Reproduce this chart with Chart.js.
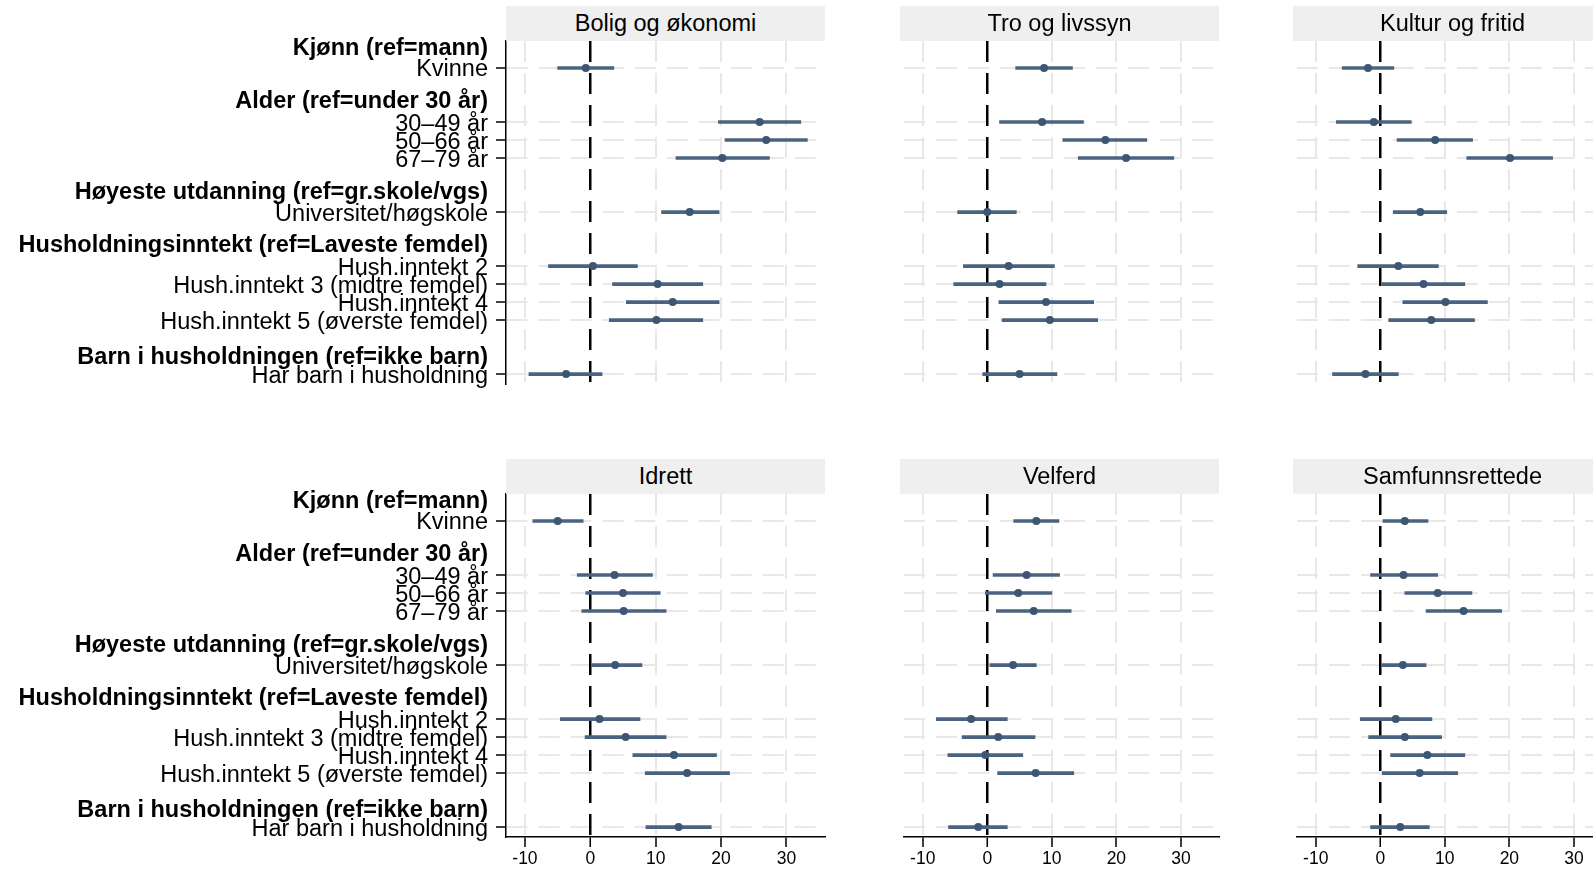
<!DOCTYPE html>
<html>
<head>
<meta charset="utf-8">
<script src="https://cdn.jsdelivr.net/npm/chart.js@4/dist/chart.umd.min.js"></script>
<style>
html, body { margin: 0; padding: 0; background: #ffffff; }
body { width: 1593px; height: 872px; overflow: hidden; position: relative;
       font-family: 'Liberation Sans', Arial, Helvetica, sans-serif; }
canvas { position: absolute; }
.hdr { position: absolute; background: #efefef; height: 35px; line-height: 35px;
       text-align: center; font-size: 23.5px; color: #000; white-space: nowrap; z-index: 2; }
</style>
</head>
<body>
<script>
// ---------------- DATA ----------------
const categories = ['Kvinne', '30–49 år', '50–66 år', '67–79 år', 'Universitet/høgskole',
  'Hush.inntekt 2', 'Hush.inntekt 3 (midtre femdel)', 'Hush.inntekt 4',
  'Hush.inntekt 5 (øverste femdel)', 'Har barn i husholdning'];
const catSlots = [0, 3, 4, 5, 8, 11, 12, 13, 14, 17];
const groupHeaders = ['Kjønn (ref=mann)', 'Alder (ref=under 30 år)',
  'Høyeste utdanning (ref=gr.skole/vgs)', 'Husholdningsinntekt (ref=Laveste femdel)',
  'Barn i husholdningen (ref=ikke barn)'];
const headerSlots = [-1.22, 1.74, 6.78, 9.77, 15.97];

const panelTitles = ['Bolig og økonomi', 'Tro og livssyn', 'Kultur og fritid',
  'Idrett', 'Velferd', 'Samfunnsrettede'];

const xTicks = [-10, 0, 10, 20, 30];
const xTickLabels = ['-10', '0', '10', '20', '30'];

const boligEst = [-0.7, 25.9, 26.9, 20.2, 15.2, 0.4, 10.3, 12.6, 10.1, -3.7];
const boligLo  = [-5.0, 19.6, 20.6, 13.1, 10.9, -6.4, 3.4, 5.5, 2.9, -9.4];
const boligHi  = [3.6, 32.2, 33.2, 27.4, 19.7, 7.2, 17.2, 19.7, 17.2, 1.8];

const troEst = [8.8, 8.5, 18.3, 21.5, 0.0, 3.3, 1.9, 9.1, 9.7, 5.0];
const troLo  = [4.4, 1.9, 11.7, 14.1, -4.6, -3.7, -5.2, 1.8, 2.3, -0.7];
const troHi  = [13.2, 14.9, 24.7, 28.9, 4.5, 10.4, 9.1, 16.5, 17.1, 10.8];

const kulturEst = [-1.9, -1.0, 8.5, 20.1, 6.2, 2.8, 6.7, 10.1, 7.9, -2.3];
const kulturLo  = [-5.9, -6.8, 2.6, 13.4, 2.0, -3.5, 0.3, 3.5, 1.3, -7.4];
const kulturHi  = [2.1, 4.8, 14.3, 26.7, 10.3, 9.0, 13.1, 16.6, 14.6, 2.8];

const idrettEst = [-5.0, 3.7, 5.0, 5.1, 3.8, 1.4, 5.4, 12.8, 14.8, 13.5];
const idrettLo  = [-8.8, -2.0, -0.7, -1.3, 0.0, -4.6, -0.8, 6.5, 8.4, 8.5];
const idrettHi  = [-1.1, 9.5, 10.7, 11.6, 7.9, 7.6, 11.6, 19.3, 21.3, 18.5];

const velferdEst = [7.6, 6.1, 4.8, 7.2, 4.0, -2.5, 1.7, -0.3, 7.5, -1.4];
const velferdLo  = [4.1, 0.9, -0.3, 1.4, 0.4, -7.9, -3.9, -6.1, 1.6, -6.0];
const velferdHi  = [11.1, 11.2, 10.0, 13.0, 7.6, 3.1, 7.4, 5.5, 13.4, 3.1];

const samfEst = [3.8, 3.6, 8.9, 12.9, 3.5, 2.4, 3.8, 7.3, 6.1, 3.1];
const samfLo  = [0.4, -1.5, 3.8, 7.1, 0.0, -3.1, -1.8, 1.6, 0.3, -1.5];
const samfHi  = [7.4, 8.9, 14.2, 18.8, 7.1, 8.0, 9.5, 13.1, 12.0, 7.6];

const panelEst = [boligEst, troEst, kulturEst, idrettEst, velferdEst, samfEst];
const panelLo  = [boligLo, troLo, kulturLo, idrettLo, velferdLo, samfLo];
const panelHi  = [boligHi, troHi, kulturHi, idrettHi, velferdHi, samfHi];

// ---------------- LAYOUT / STYLE ----------------
const X_MIN = -12.9, X_MAX = 35.9;
const Y_MIN = -1.5, Y_MAX = 17.55;
const PLOT_W = 319, PLOT_H = 343;
const COL_LEFT = [506, 900, 1293];
const ROW_TOP = [41, 494];
const CANVAS_TOP = [0, 450];
const CANVAS_H = [400, 422];
const HDR_H = 35;
const PT_COLOR = '#3d5673';
const BAR_COLOR = '#4a6381';
const GRID_COLOR = '#e8e8e8';
const DASH = [21, 11];
const TRANSPARENT = 'rgba(0,0,0,0)';

Chart.defaults.font.family = "'Liberation Sans', Arial, Helvetica, sans-serif";
Chart.defaults.color = '#000';

const yTickDefs = categories.map((t, i) => ({ value: catSlots[i], label: t, header: false }))
  .concat(groupHeaders.map((t, i) => ({ value: headerSlots[i], label: t, header: true })))
  .sort((a, b) => a.value - b.value);
const isHeaderVal = v => headerSlots.indexOf(v) >= 0;

function makePanel(p) {
  const r = Math.floor(p / 3), c = p % 3;
  const showY = c === 0, showX = r === 1;
  const yW = showY ? COL_LEFT[0] : 0;
  const left = COL_LEFT[c] - yW;
  const cv = document.createElement('canvas');
  cv.width = yW + PLOT_W + 4;
  cv.height = CANVAS_H[r];
  cv.style.left = left + 'px';
  cv.style.top = CANVAS_TOP[r] + 'px';
  document.body.appendChild(cv);

  const hdr = document.createElement('div');
  hdr.className = 'hdr';
  hdr.textContent = panelTitles[p];
  hdr.style.left = COL_LEFT[c] + 'px';
  hdr.style.top = (ROW_TOP[r] - HDR_H) + 'px';
  hdr.style.width = PLOT_W + 'px';
  document.body.appendChild(hdr);

  const est = panelEst[p], lo = panelLo[p], hi = panelHi[p];
  const padTop = ROW_TOP[r] - CANVAS_TOP[r];
  const xH = showX ? (CANVAS_H[r] - padTop - PLOT_H) : 0;
  const padBottom = showX ? 0 : (CANVAS_H[r] - padTop - PLOT_H);

  new Chart(cv, {
    type: 'bar',
    data: {
      datasets: [
        {
          type: 'scatter',
          data: est.map((v, i) => ({ x: v, y: catSlots[i] })),
          pointRadius: 4,
          pointBackgroundColor: PT_COLOR,
          pointBorderColor: PT_COLOR,
          pointBorderWidth: 0,
          order: 0
        },
        {
          type: 'bar',
          indexAxis: 'y',
          data: lo.map((v, i) => ({ x: [v, hi[i]], y: catSlots[i] })),
          backgroundColor: BAR_COLOR,
          borderWidth: 0,
          barThickness: 3,
          order: 1
        }
      ]
    },
    options: {
      responsive: false,
      animation: false,
      devicePixelRatio: 1,
      indexAxis: 'y',
      events: [],
      layout: { padding: { top: padTop, bottom: padBottom, left: 0, right: 4 } },
      plugins: { legend: { display: false }, tooltip: { enabled: false }, title: { display: false } },
      scales: {
        y: {
          type: 'linear',
          min: Y_MIN, max: Y_MAX, reverse: true, offset: false,
          afterBuildTicks: s => { s.ticks = yTickDefs.map(t => ({ value: t.value })); },
          afterFit: s => { s.width = yW; s.paddingTop = 0; s.paddingBottom = 0; },
          ticks: {
            display: showY, autoSkip: false, padding: 8, color: '#000', labelOffset: 2,
            callback: (v, i) => yTickDefs[i] ? yTickDefs[i].label : '',
            font: ctx => ({ size: 23.5, weight: (ctx.tick && isHeaderVal(ctx.tick.value)) ? 'bold' : 'normal' })
          },
          grid: {
            display: true, offset: false, drawOnChartArea: true, drawTicks: showY,
            tickLength: 10, tickWidth: 1.5, lineWidth: 2,
            color: ctx => (ctx.tick && isHeaderVal(ctx.tick.value)) ? TRANSPARENT : GRID_COLOR,
            tickColor: ctx => (ctx.tick && isHeaderVal(ctx.tick.value)) ? TRANSPARENT : '#000'
          },
          border: { display: showY, color: '#000', width: 1.5, dash: DASH }
        },
        x: {
          type: 'linear',
          min: X_MIN, max: X_MAX, offset: false,
          afterBuildTicks: s => { s.ticks = xTicks.map(v => ({ value: v })); },
          afterFit: s => { s.height = xH; s.paddingLeft = 0; s.paddingRight = 0; },
          ticks: {
            display: showX, autoSkip: false, maxRotation: 0, padding: 2, color: '#000',
            font: { size: 17.5 },
            callback: (v, i) => xTickLabels[i]
          },
          grid: {
            display: true, offset: false, drawOnChartArea: true, drawTicks: showX,
            tickLength: 10, tickWidth: 1.5, tickColor: '#000',
            color: ctx => (ctx.tick && ctx.tick.value === 0) ? '#000' : GRID_COLOR,
            lineWidth: ctx => (ctx.tick && ctx.tick.value === 0) ? 2.5 : 2
          },
          border: { display: showX, color: '#000', width: 1.5, dash: DASH }
        }
      }
    }
  });
}

for (let p = 0; p < 6; p++) makePanel(p);
</script>
</body>
</html>
